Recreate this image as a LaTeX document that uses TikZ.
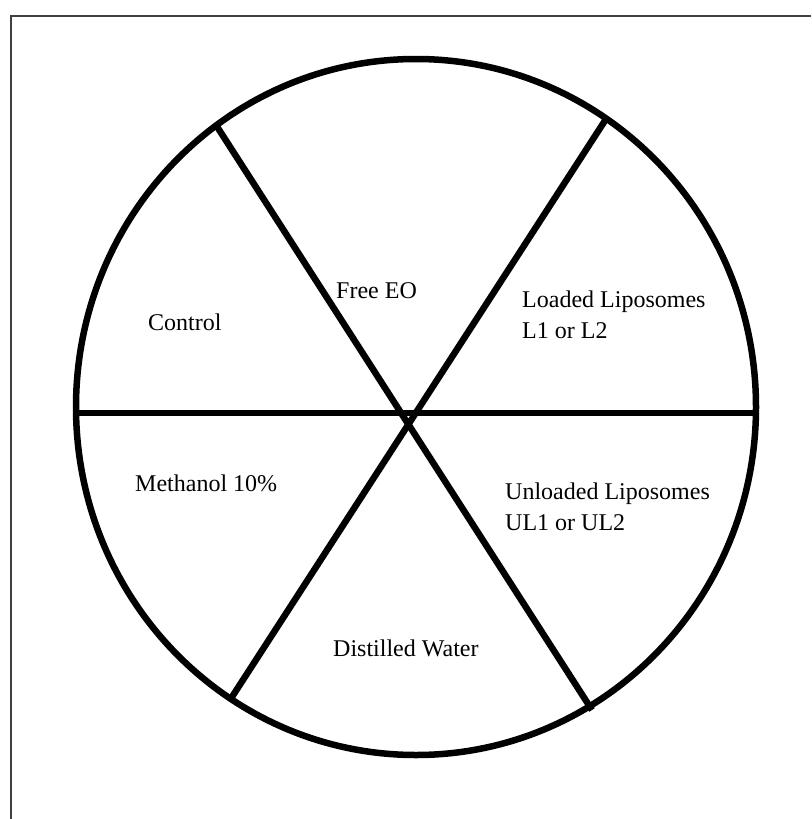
\documentclass[tikz,border=0pt]{standalone}
\usepackage{fontspec}
\setmainfont{Liberation Serif}
\usetikzlibrary{positioning}

\tikzset{
  spoke/.style={line width=6.5pt},
  label/.style={font=\fontsize{24}{31}\selectfont, inner sep=0pt, align=left, anchor=base west}
}

\begin{document}
\begin{tikzpicture}[x=1pt, y=-1pt]
  \useasboundingbox (0,0) rectangle (811,819);

  % frame of the figure
  \draw[black!75, line width=2pt] (811,16) -- (11,16) -- (11,819);

  % plate
  \coordinate (c) at (416,407);
  \draw[spoke] (c) ellipse [x radius=340, y radius=348];

  % spokes
  \coordinate (w)  at (76,413);
  \coordinate (e)  at (757,413);
  \coordinate (nw) at (216,125);
  \coordinate (ne) at (606,119);
  \coordinate (sw) at (230,700);
  \coordinate (se) at (592,710);
  \draw[spoke] (w) -- (e);
  \draw[spoke] (nw) -- (se);
  \draw[spoke] (ne) -- (sw);

  % sectors
  \node[label] (free)     at (336,298) {Free EO};
  \node[label] (control)  at (148,330) {Control};
  \node[label] (loaded)   at (522,338) {Loaded Liposomes\\L1 or L2};
  \node[label] (unloaded) at (505,530) {Unloaded Liposomes\\UL1 or UL2};
  \node[label] (methanol) at (135,491) {Methanol 10\%};
  \node[label] (water)    at (333,656) {Distilled Water};
\end{tikzpicture}
\end{document}
